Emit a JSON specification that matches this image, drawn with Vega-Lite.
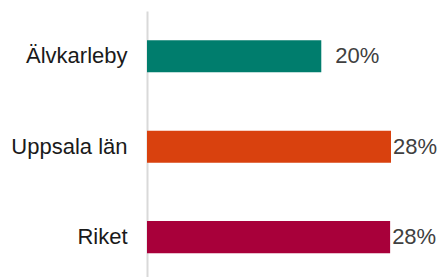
{
  "$schema": "https://vega.github.io/schema/vega-lite/v6.json",
  "width": 244,
  "height": 266,
  "autosize": "none",
  "padding": {"left": 147, "top": 11, "right": 49, "bottom": 0},
  "background": "white",
  "config": {"view": {"stroke": null}, "font": "Liberation Sans"},
  "data": {
    "values": [
      {"region": "Älvkarleby", "share": 0.2},
      {"region": "Uppsala län", "share": 0.28},
      {"region": "Riket", "share": 0.279}
    ]
  },
  "encoding": {
    "y": {
      "field": "region",
      "type": "nominal",
      "sort": null,
      "scale": {"paddingInner": 0.646, "paddingOuter": 0.293, "align": 0.55},
      "axis": {
        "title": null,
        "ticks": false,
        "labelPadding": 20,
        "labelFontSize": 22,
        "labelColor": "#1a1a1a",
        "labelFont": "Liberation Sans",
        "domainColor": "#d9d9d9",
        "domainWidth": 2
      }
    },
    "x": {
      "field": "share",
      "type": "quantitative",
      "scale": {"domain": [0, 0.28], "nice": false, "zero": true},
      "axis": null
    }
  },
  "layer": [
    {
      "mark": {"type": "bar"},
      "encoding": {
        "color": {
          "field": "region",
          "type": "nominal",
          "scale": {
            "domain": ["Älvkarleby", "Uppsala län", "Riket"],
            "range": ["#007D6D", "#D9410E", "#A8003A"]
          },
          "legend": null
        }
      }
    },
    {
      "mark": {
        "type": "text",
        "align": "left",
        "baseline": "middle",
        "dx": {"expr": "datum.share > 0.25 ? 2 : 14"},
        "fontSize": 22,
        "font": "Liberation Sans",
        "color": "#404040"
      },
      "encoding": {
        "text": {"field": "share", "type": "quantitative", "format": ".0%"}
      }
    }
  ]
}
